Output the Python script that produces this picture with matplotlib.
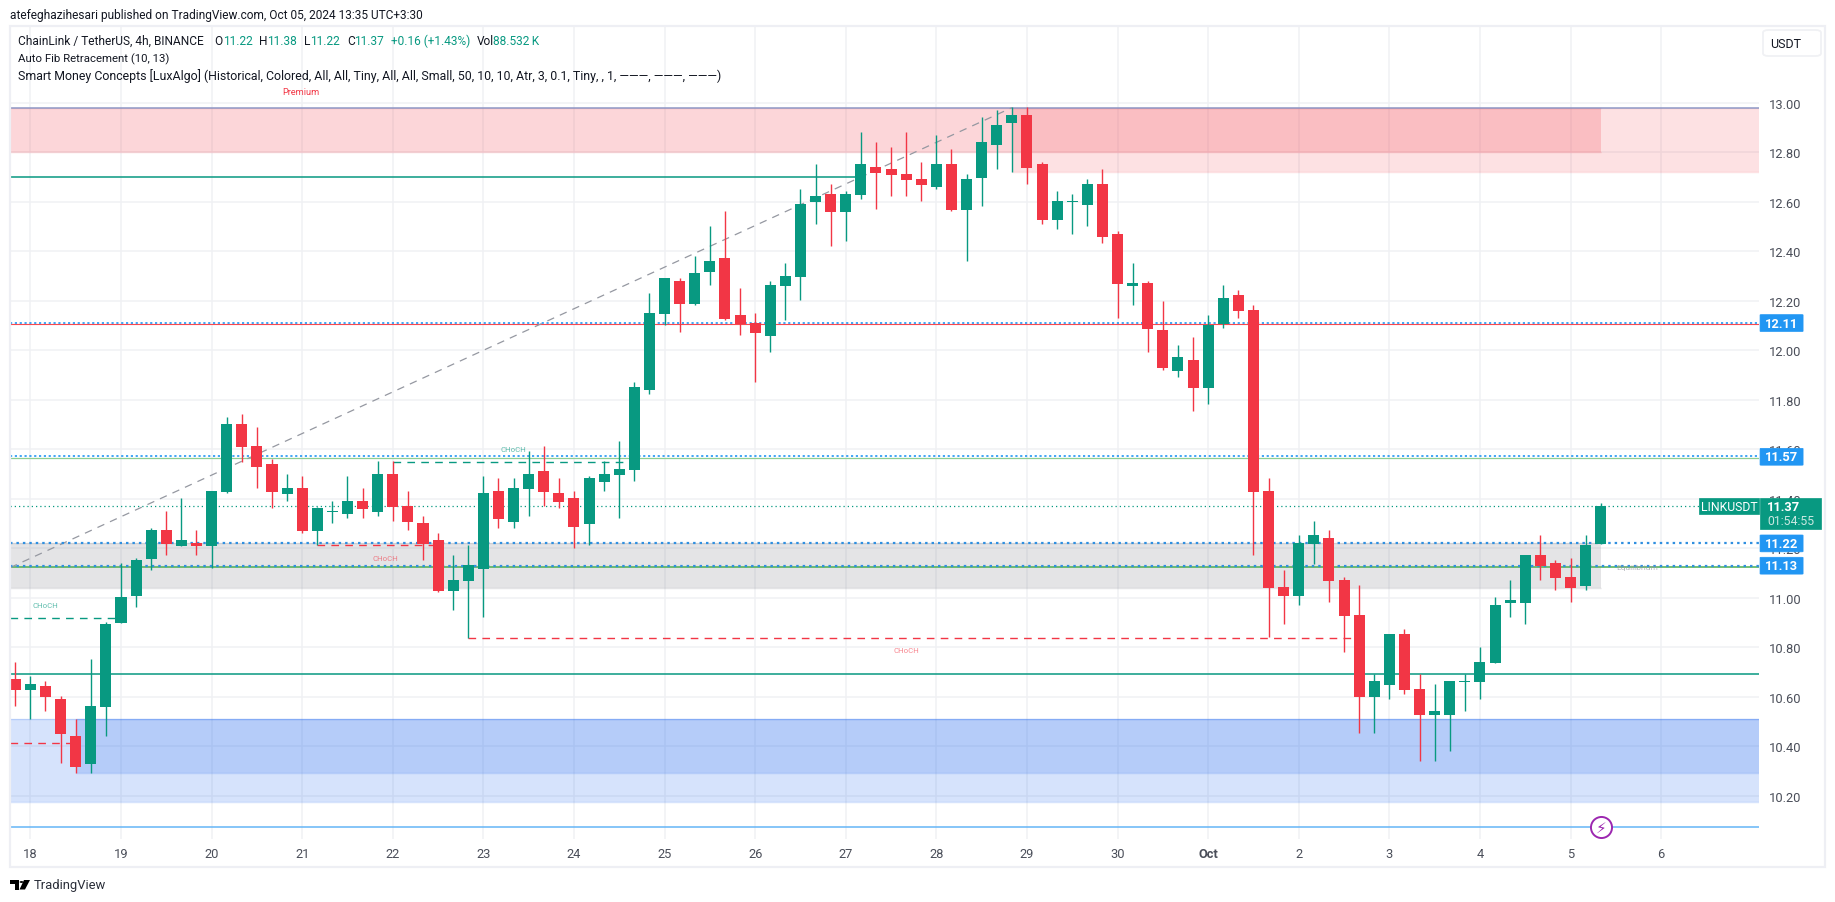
import matplotlib
matplotlib.use('Agg')
from matplotlib import pyplot as plt
from matplotlib.patches import Rectangle, FancyBboxPatch, Polygon, Circle
from matplotlib.transforms import blended_transform_factory

plt.rcParams['font.family'] = ['Roboto', 'DejaVu Sans']

# candles, 4h, first one is 17 Sep 20:00
opens = [10.672,10.627,10.643,10.591,10.441,10.328,10.559,10.898,11.007,11.156,11.273,11.209,11.221,11.209,11.427,11.701,
         11.612,11.540,11.419,11.443,11.269,11.346,11.338,11.390,11.346,11.499,11.370,11.301,11.233,11.027,11.067,11.116,
         11.431,11.306,11.439,11.511,11.423,11.402,11.297,11.467,11.497,11.517,11.840,12.147,12.280,12.187,12.316,12.373,
         12.143,12.110,12.058,12.260,12.296,12.599,12.631,12.559,12.627,12.740,12.732,12.712,12.692,12.659,12.752,12.567,
         12.696,12.829,12.918,12.950,12.752,12.526,12.599,12.587,12.672,12.470,12.260,12.272,12.082,11.917,11.961,11.848,
         12.106,12.223,12.163,11.431,11.043,11.007,11.217,11.241,11.071,10.930,10.599,10.647,10.853,10.631,10.526,10.526,
         10.660,10.660,10.736,10.978,10.978,11.172,11.140,11.083,11.047,11.217]
highs = [10.740,10.684,10.664,10.603,10.510,10.752,10.902,11.140,11.160,11.281,11.350,11.402,11.273,11.431,11.729,11.742,
         11.689,11.560,11.499,11.491,11.366,11.390,11.491,11.443,11.552,11.552,11.431,11.330,11.261,11.172,11.213,11.491,
         11.483,11.483,11.592,11.612,11.483,11.431,11.491,11.552,11.634,11.872,12.231,12.292,12.292,12.381,12.502,12.563,
         12.252,12.151,12.280,12.353,12.651,12.752,12.672,12.643,12.882,12.841,12.821,12.882,12.760,12.869,12.813,12.712,
         12.942,12.970,12.983,12.983,12.760,12.643,12.631,12.692,12.732,12.482,12.353,12.280,12.201,12.022,12.053,12.143,
         12.264,12.244,12.183,11.483,11.112,11.253,11.310,11.273,11.083,11.051,10.692,10.853,10.873,10.692,10.651,10.664,
         10.692,10.801,11.003,11.071,11.172,11.253,11.152,11.160,11.253,11.382]
lows = [10.563,10.510,10.542,10.332,10.292,10.292,10.441,10.898,10.962,11.112,11.172,11.209,11.172,11.120,11.423,11.548,
        11.443,11.362,11.390,11.261,11.213,11.301,11.322,11.322,11.330,11.310,11.273,11.152,11.023,10.950,10.838,10.922,
        11.281,11.281,11.330,11.370,11.362,11.201,11.213,11.431,11.323,11.472,11.824,12.102,12.074,12.183,12.264,12.123,
        12.062,11.872,11.993,12.122,12.203,12.510,12.421,12.441,12.611,12.571,12.623,12.623,12.603,12.651,12.563,12.361,
        12.583,12.732,12.720,12.672,12.510,12.490,12.470,12.502,12.433,12.131,12.183,11.993,11.921,11.892,11.753,11.783,
        12.090,12.131,11.172,10.841,10.894,10.970,11.136,10.983,10.781,10.454,10.454,10.591,10.611,10.341,10.341,10.381,
        10.542,10.591,10.736,10.922,10.894,11.071,11.031,10.983,11.031,11.217]
closes = [10.627,10.651,10.599,10.450,10.316,10.563,10.894,11.003,11.152,11.273,11.217,11.233,11.209,11.431,11.701,11.608,
          11.528,11.427,11.443,11.269,11.362,11.350,11.390,11.358,11.499,11.366,11.306,11.217,11.027,11.071,11.132,11.423,
          11.318,11.443,11.499,11.427,11.386,11.285,11.483,11.499,11.521,11.852,12.151,12.292,12.187,12.312,12.361,12.127,
          12.106,12.070,12.264,12.300,12.591,12.623,12.559,12.631,12.752,12.716,12.708,12.688,12.668,12.752,12.567,12.692,
          12.841,12.910,12.950,12.736,12.526,12.603,12.603,12.672,12.458,12.268,12.272,12.086,11.929,11.973,11.848,12.102,
          12.211,12.159,11.427,11.039,11.007,11.221,11.253,11.067,10.926,10.599,10.664,10.853,10.627,10.526,10.542,10.664,
          10.664,10.740,10.970,10.991,11.172,11.128,11.079,11.039,11.213,11.370]

day_labels = ['18','19','20','21','22','23','24','25','26','27','28','29','30','Oct','2','3','4','5','6']
price_ticks = [10.2,10.4,10.6,10.8,11.0,11.2,11.4,11.6,11.8,12.0,12.2,12.4,12.6,12.8,13.0]

# price tags on the right
tag_prices = [12.11, 11.57, 11.22, 11.13]
last_price = 11.37

W, H = 1835, 903
UP = '#089981'
DOWN = '#f23645'
BLUE = '#2196f3'
GRID = '#f0f1f4'
TEXT = '#131722'
AXIS_TEXT = '#4a4e59'

def fx(px):
    return px / W
def fy(px):
    return 1 - px / H

fig = plt.figure(figsize=(W / 100, H / 100), dpi=100, facecolor='white')
ax = fig.add_axes([fx(10), fy(840), fx(1749), 813 / H])
ax.set_xlim(-0.351, 115.48)
ax.set_ylim(10.026, 13.31)
for s in ax.spines.values():
    s.set_visible(False)

day_pos = [1 + 6 * k for k in range(len(day_labels))]
ax.set_xticks(day_pos, day_labels)
ax.set_yticks(price_ticks, ['%.2f' % p for p in price_ticks])
ax.yaxis.tick_right()
ax.tick_params(axis='both', length=0, labelsize=9.3, labelcolor=AXIS_TEXT)
ax.tick_params(axis='y', pad=7)
ax.tick_params(axis='x', pad=6)
ax.get_xticklabels()[day_labels.index('Oct')].set_fontweight('bold')
ax.grid(True, color=GRID, lw=1.1, zorder=0)
ax.set_axisbelow(True)

# zones, transparent so the grid shows through
def zone(x0, x1, y0, y1, color, alpha):
    ax.add_patch(Rectangle((x0, y0), x1 - x0, y1 - y0, facecolor=color, edgecolor='none',
                           alpha=alpha, lw=0, zorder=1))
    ax.hlines([y0, y1], x0, x1, color=color, alpha=alpha, lw=1, zorder=1)

x_left, x_right = ax.get_xlim()
zone(x_left, 105, 12.80, 12.98, DOWN, 0.2)
zone(66, x_right, 12.72, 12.98, DOWN, 0.15)
zone(x_left, 105, 11.04, 11.22, '#787b86', 0.2)
zone(x_left, x_right, 10.175, 10.509, '#3273f0', 0.2)
zone(4, x_right, 10.293, 10.509, '#3273f0', 0.2)

# levels
ax.axhline(12.98, color='#8e9ac8', lw=1.1, zorder=2)
ax.hlines(12.70, x_left, 56, color=UP, lw=1.1, zorder=2)
ax.axhline(12.106, color='#f8484f', lw=0.8, zorder=2)
ax.axhline(11.565, color='#8fce92', lw=0.9, zorder=2)
ax.axhline(11.125, color='#4caf50', lw=1.1, zorder=2)
ax.axhline(10.694, color=UP, lw=1.1, zorder=2)
ax.axhline(10.073, color='#64b5f6', lw=1.1, zorder=2)
ax.hlines(11.37, x_left, 111.5, color=UP, lw=0.9, linestyle=(0, (1, 2.4)), zorder=2)
for p in [12.112, 11.572]:
    ax.axhline(p, color=BLUE, lw=1.2, linestyle=(0, (1.3, 1.6)), zorder=2.1)
for p in [11.22, 11.13]:
    ax.axhline(p, color='#2f8fe0', lw=1.6, linestyle=(0, (1.1, 1.8)), zorder=2.1)

# fib diagonal
ax.plot([x_left, 66], [11.122, 12.98], color='#9598a1', lw=0.9, linestyle=(0, (6, 5)), zorder=2)

# CHoCH structure lines
dash = (0, (5.5, 4.5))
ax.hlines(11.55, 25, 41, color=UP, lw=1.0, linestyle=dash, zorder=2)
ax.hlines(10.92, x_left, 7, color=UP, lw=1.0, linestyle=dash, zorder=2)
ax.hlines(11.213, 20, 28, color=DOWN, lw=1.0, linestyle=dash, zorder=2)
ax.hlines(10.838, 30, 89, color=DOWN, lw=1.0, linestyle=dash, zorder=2)
ax.hlines(10.412, x_left, 4, color=DOWN, lw=1.0, linestyle=dash, zorder=2)
ax.text(33, 11.60, 'CHoCH', color=UP, alpha=0.65, fontsize=5.6, ha='center', va='center')
ax.text(2, 10.97, 'CHoCH', color=UP, alpha=0.65, fontsize=5.6, ha='center', va='center')
ax.text(24.5, 11.16, 'CHoCH', color=DOWN, alpha=0.6, fontsize=5.6, ha='center', va='center')
ax.text(59, 10.79, 'CHoCH', color=DOWN, alpha=0.6, fontsize=5.6, ha='center', va='center')
ax.text(18.9, 13.044, 'Premium', color=DOWN, fontsize=6.6, ha='center', va='center')
ax.text(107.4, 11.125, 'Equilibrium', color='#9598a1', alpha=0.7, fontsize=6, ha='center', va='center')

# candles
xs = list(range(len(opens)))
colors = [UP if c >= o else DOWN for o, c in zip(opens, closes)]
ax.vlines(xs, lows, highs, colors=colors, lw=1.0, zorder=3)
bottoms = [min(o, c) for o, c in zip(opens, closes)]
heights = [max(abs(c - o), 0.004) for o, c in zip(opens, closes)]
ax.bar(xs, heights, bottom=bottoms, width=0.73, color=colors, lw=0, zorder=4)

# price tags
tag_tr = blended_transform_factory(ax.transAxes, ax.transData)
for p in tag_prices:
    ax.add_patch(FancyBboxPatch((1.0006, p - 0.034), 0.0246, 0.068, boxstyle='round,pad=0,rounding_size=0.001',
                                transform=tag_tr, facecolor=BLUE, edgecolor=BLUE, lw=0.5, clip_on=False, zorder=6))
    ax.text(1.013, p, '%.2f' % p, transform=tag_tr, color='white', fontsize=9.3, fontweight='bold',
            ha='center', va='center', clip_on=False, zorder=7)
ax.add_patch(Rectangle((1.0006, last_price - 0.093), 0.0349, 0.126, transform=tag_tr, facecolor=UP, edgecolor=UP,
                       lw=0.5, clip_on=False, zorder=6))
ax.add_patch(Rectangle((0.9657, last_price - 0.033), 0.0343, 0.066, transform=tag_tr, facecolor=UP, edgecolor=UP,
                       lw=0.5, clip_on=False, zorder=6))
ax.text(0.9828, last_price, 'LINKUSDT', transform=tag_tr, color='white', fontsize=8.8, ha='center', va='center',
        clip_on=False, zorder=7)
ax.text(1.0047, last_price, '%.2f' % last_price, transform=tag_tr, color='white', fontsize=9.3, fontweight='bold',
        ha='left', va='center', clip_on=False, zorder=7)
ax.text(1.0047, last_price - 0.058, '01:54:55', transform=tag_tr, color='#c9e8e1', fontsize=8.8,
        ha='left', va='center', clip_on=False, zorder=7)

# lightning marker
ax.scatter([105], [10.073], s=230, facecolor='white', edgecolor='#9c27b0', lw=1.4, zorder=5)
ax.text(105, 10.073, '\u26a1', color='#9c27b0', fontsize=11, ha='center', va='center', zorder=6,
        family=['DejaVu Sans'])

# frame and header
fig.add_artist(Rectangle((fx(10), fy(868)), fx(1815), 841 / H, transform=fig.transFigure, fill=False,
                         edgecolor='#eeeff4', lw=1.6))
fig.add_artist(FancyBboxPatch((fx(1763), fy(57)), fx(58), 26 / H, boxstyle='round,pad=0,rounding_size=0.003',
                              transform=fig.transFigure, facecolor='white', edgecolor=GRID, lw=1.3))
fig.text(fx(1786), fy(44.5), 'USDT', color=TEXT, fontsize=9.0, ha='center', va='center')
fig.text(fx(10), fy(15), 'atefeghazihesari published on TradingView.com, Oct 05, 2024 13:35 UTC+3:30',
         color=TEXT, fontsize=8.6, va='center')

def legend_text(px, py, s, color=TEXT, size=8.6):
    fig.text(fx(px), fy(py), s, color=color, fontsize=size, va='center')

legend_text(18, 41.7, 'ChainLink / TetherUS, 4h, BINANCE')
legend_text(214, 41.7, 'O')
legend_text(222.6, 41.7, '11.22', UP)
legend_text(259, 41.7, 'H')
legend_text(267, 41.7, '11.38', UP)
legend_text(303.7, 41.7, 'L')
legend_text(310, 41.7, '11.22', UP)
legend_text(347, 41.7, 'C')
legend_text(354, 41.7, '11.37', UP)
legend_text(390.7, 41.7, '+0.16 (+1.43%)', UP)
legend_text(476.5, 41.7, 'Vol')
legend_text(493, 41.7, '88.532\u2009K', UP)
legend_text(18, 59, 'Auto Fib Retracement (10, 13)', size=8.2)
legend_text(18, 76, 'Smart Money Concepts [LuxAlgo] (Historical, Colored, All, All, Tiny, All, All, Small, 50, 10, 10, '
                    'Atr, 3, 0.1, Tiny, , 1, \u2014\u2014\u2014, \u2014\u2014\u2014, \u2014\u2014\u2014)', size=8.9)

# TradingView logo
def px_poly(points, color='black'):
    fig.add_artist(Polygon([(fx(x), fy(y)) for x, y in points], closed=True, transform=fig.transFigure,
                           facecolor=color, edgecolor='none'))

px_poly([(10, 881), (19, 881), (19, 890.5), (14.5, 890.5), (14.5, 885), (10, 885)])
px_poly([(24, 881), (30, 881), (25, 890.5), (19.5, 890.5)])
fig.add_artist(Circle((fx(21.5), fy(883)), 1.9 / W, transform=fig.transFigure, facecolor='black', edgecolor='none'))
fig.text(fx(33.5), fy(885.7), 'TradingView', color='#2a2e39', fontsize=9.4, va='center')

fig.savefig('out.png', dpi=100)
